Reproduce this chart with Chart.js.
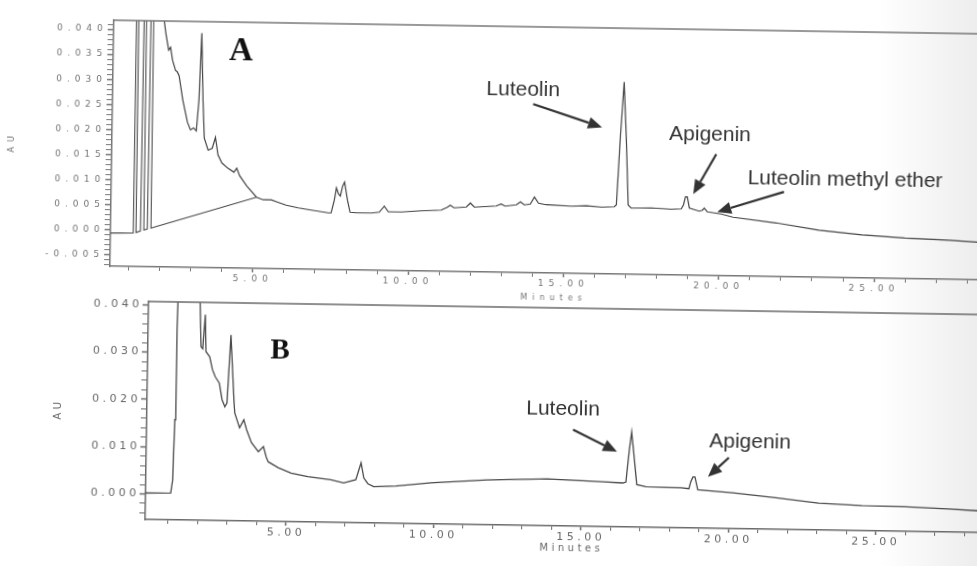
<!DOCTYPE html>
<html>
<head>
<meta charset="utf-8">
<script src="https://cdn.jsdelivr.net/npm/chart.js@4.4.1/dist/chart.umd.min.js"></script>
<style>
  html, body { margin: 0; padding: 0; overflow: hidden; }
  body { width: 977px; height: 566px; position: relative; background: linear-gradient(to right, #fff 90%, #ededed 100%); }
  canvas { position: absolute; left: 0; }
  /* the scan is turned slightly clockwise */
  #chartA { top: 0; transform-origin: 545px 143px; transform: rotate(0.9deg); }
  #chartB { top: 290px; transform-origin: 562px 120px; transform: rotate(0.9deg); }
</style>
</head>
<body>
<canvas id="chartA" width="1000" height="310"></canvas>
<canvas id="chartB" width="1000" height="270"></canvas>
<script>
// ---- panel A: retention time (min) / absorbance (AU)
var timeA = [1.92, 2.02, 2.08, 2.18, 2.24, 2.31, 2.41, 2.47, 2.53, 2.66, 2.82, 2.92, 3.02, 3.11, 3.18, 3.24, 3.31, 3.37, 3.50, 3.63,
  3.73, 3.82, 3.95, 4.14, 4.34, 4.43, 4.53, 4.76, 5.08, 5.30, 5.56, 5.75, 6.04, 6.43, 6.85, 7.40, 7.49, 7.59, 7.65, 7.72,
  7.78, 7.85, 7.91, 8.01, 8.10, 8.30, 8.78, 9.04, 9.20, 9.33, 9.75, 10.39, 11.03, 11.23, 11.32, 11.45, 11.84, 11.97, 12.10, 12.80,
  12.96, 13.09, 13.45, 13.58, 13.71, 13.90, 14.03, 14.16, 14.41, 15.22, 15.70, 16.19, 16.60, 16.67, 16.76, 16.86, 16.96, 17.05, 17.15, 17.79,
  18.44, 18.76, 18.83, 18.89, 18.95, 19.02, 19.34, 19.44, 19.50, 19.60, 20.05, 20.43, 21.82, 23.20, 24.59, 25.97, 27.39, 28.32, 29.0];
var auA = [0.05, 0.0420, 0.0394, 0.0360, 0.0366, 0.0340, 0.0320, 0.0317, 0.0309, 0.0261, 0.0217, 0.0202, 0.0206, 0.0200, 0.0262, 0.0395, 0.0262, 0.0186, 0.0162, 0.0166,
  0.0188, 0.0153, 0.0137, 0.0127, 0.0119, 0.0127, 0.0112, 0.0092, 0.0070, 0.0065, 0.0065, 0.0061, 0.0055, 0.0050, 0.0046, 0.0041, 0.0041, 0.0067, 0.0091, 0.0079,
  0.0075, 0.0095, 0.0103, 0.0067, 0.0043, 0.0042, 0.0042, 0.0044, 0.0056, 0.0045, 0.0045, 0.0048, 0.0050, 0.0056, 0.0060, 0.0055, 0.0057, 0.0065, 0.0057, 0.0060,
  0.0064, 0.0060, 0.0063, 0.0069, 0.0063, 0.0065, 0.0079, 0.0067, 0.0064, 0.0062, 0.0063, 0.0061, 0.0062, 0.0066, 0.0195, 0.0311, 0.0195, 0.0066, 0.0060, 0.0061,
  0.0059, 0.0060, 0.0068, 0.0084, 0.0084, 0.0062, 0.0056, 0.0058, 0.0062, 0.0055, 0.0051, 0.0045, 0.0035, 0.0022, 0.0014, 0.0009, 0.0006, 0.0003, 0.0002];
// solvent front of A: off-scale spikes and the straight baseline drawn under them
var frontTimeA = [0.40, 1.12, 1.13, 1.20, 1.22, 1.36, 1.38, 1.45, 1.47, 1.58, 1.60, 1.68, 1.70, 5.08];
var frontAuA = [-0.0006, -0.0005, 0.05, 0.05, -0.0004, -0.0001, 0.05, 0.05, 0.0001, 0.0003, 0.05, 0.05, 0.0005, 0.0070];

// ---- panel B
var timeB = [0.22, 1.07, 1.13, 1.17, 1.20, 1.24, 1.91, 1.98, 2.02, 2.08, 2.15, 2.19, 2.32, 2.42, 2.52, 2.66, 2.76, 2.86, 2.93, 3.03,
  3.17, 3.20, 3.37, 3.51, 3.61, 3.78, 4.02, 4.19, 4.29, 4.36, 4.70, 5.14, 5.71, 6.49, 6.93, 7.34, 7.51, 7.61, 7.75, 7.95,
  8.70, 9.89, 11.78, 13.82, 15.72, 16.40, 16.50, 16.60, 16.67, 16.74, 16.87, 17.18, 18.37, 18.64, 18.70, 18.77, 18.84, 18.94, 20.13, 21.59,
  23.05, 24.51, 26.00, 27.46, 28.44, 29.15];
var auB = [0.0002, 0.0003, 0.0031, 0.0158, 0.0348, 0.05, 0.05, 0.0385, 0.0313, 0.0309, 0.0381, 0.0303, 0.0292, 0.0265, 0.0250, 0.0237, 0.0202, 0.0187, 0.0195, 0.0339,
  0.0196, 0.0174, 0.0143, 0.0160, 0.0139, 0.0112, 0.0093, 0.0104, 0.0082, 0.0072, 0.0060, 0.0049, 0.0042, 0.0036, 0.0030, 0.0037, 0.0073, 0.0041, 0.0029, 0.0023,
  0.0025, 0.0033, 0.0041, 0.0045, 0.0041, 0.0039, 0.0041, 0.0109, 0.0147, 0.0109, 0.0036, 0.0032, 0.0031, 0.0029, 0.0044, 0.0054, 0.0054, 0.0027, 0.0022, 0.0013,
  0.0003, -0.0001, -0.0002, -0.0005, -0.0008, -0.0009];

// ---- axes
var xTicks = [5, 10, 15, 20, 25];
var yTicksA = [-0.005, 0, 0.005, 0.010, 0.015, 0.020, 0.025, 0.030, 0.035, 0.040];
var yTicksB = [0, 0.010, 0.020, 0.030, 0.040];

// ---- peak labels and arrows (minutes, AU)
var namesA = ['Luteolin', 'Apigenin', 'Luteolin methyl ether'];
var nameTimeA = [13.61, 19.65, 24.02];
var nameAuA = [0.0292, 0.0208, 0.0123];
var arrowFromA = [[13.94, 0.0264], [19.86, 0.0170], [22.06, 0.0097]];
var arrowToA = [[16.17, 0.0220], [19.14, 0.0090], [19.92, 0.0055]];

var namesB = ['Luteolin', 'Apigenin'];
var nameTimeB = [14.33, 20.69];
var nameAuB = [0.0192, 0.0130];
var arrowFromB = [[14.68, 0.0150], [19.98, 0.0096]];
var arrowToB = [[16.18, 0.0105], [19.28, 0.0055]];

function pts(xs, ys) {
  return xs.map(function (x, i) { return { x: x, y: ys[i] }; });
}

function isMajor(list, v) {
  return list.some(function (m) { return Math.abs(m - v) < 1e-9; });
}

function everyStep(step, lo, hi) {
  var out = [];
  for (var n = Math.ceil(lo / step - 1e-9); n <= Math.floor(hi / step + 1e-9); n++) {
    out.push({ value: +(n * step).toFixed(6) });
  }
  return out;
}

// frame line, panel letter, peak names with arrows
var decor = {
  id: 'decor',
  beforeDraw: function (chart, args, o) {
    chart.ctx.letterSpacing = o.spacing;
  },
  afterDraw: function (chart, args, o) {
    var ctx = chart.ctx, sx = chart.scales.x, sy = chart.scales.y, a = chart.chartArea;
    ctx.save();
    ctx.letterSpacing = '0px';
    ctx.strokeStyle = o.frameColor;
    ctx.lineWidth = 1.5;
    ctx.beginPath();
    ctx.moveTo(a.left, a.top);
    ctx.lineTo(a.right, a.top);
    ctx.stroke();

    ctx.textAlign = 'center';
    ctx.textBaseline = 'middle';
    ctx.fillStyle = '#111';
    ctx.font = o.letterFont;
    ctx.fillText(o.letter, sx.getPixelForValue(o.letterAt[0]), sy.getPixelForValue(o.letterAt[1]));

    ctx.fillStyle = '#333';
    ctx.font = '21px "Liberation Sans", Arial, sans-serif';
    o.names.forEach(function (n, i) {
      ctx.fillText(n, sx.getPixelForValue(o.nameT[i]), sy.getPixelForValue(o.nameAu[i]));
    });

    ctx.strokeStyle = '#333';
    ctx.lineWidth = 2.2;
    o.from.forEach(function (f, i) {
      var x1 = sx.getPixelForValue(f[0]), y1 = sy.getPixelForValue(f[1]);
      var x2 = sx.getPixelForValue(o.to[i][0]), y2 = sy.getPixelForValue(o.to[i][1]);
      var ang = Math.atan2(y2 - y1, x2 - x1), len = 14, w = 6;
      var bx = x2 - len * Math.cos(ang), by = y2 - len * Math.sin(ang);
      ctx.beginPath();
      ctx.moveTo(x1, y1);
      ctx.lineTo(bx, by);
      ctx.stroke();
      ctx.beginPath();
      ctx.moveTo(x2, y2);
      ctx.lineTo(bx + w * Math.sin(ang), by - w * Math.cos(ang));
      ctx.lineTo(bx - w * Math.sin(ang), by + w * Math.cos(ang));
      ctx.closePath();
      ctx.fill();
    });
    ctx.restore();
  }
};

function panel(id, s) {
  return new Chart(document.getElementById(id), {
    type: 'line',
    data: { datasets: s.datasets },
    options: {
      responsive: false,
      animation: false,
      devicePixelRatio: 1,
      events: [],
      layout: { padding: { top: s.top, left: 0, right: 0, bottom: 0 } },
      elements: { point: { radius: 0 }, line: { tension: 0 } },
      scales: {
        x: {
          type: 'linear',
          min: s.xMin,
          max: s.xMax,
          afterBuildTicks: function (sc) { sc.ticks = everyStep(1, 1, 28); },
          afterFit: function (sc) { sc.height = s.xHeight; },
          ticks: {
            autoSkip: false,
            maxRotation: 0,
            padding: s.xPad,
            color: s.tickColor,
            font: { family: 'DejaVu Sans', size: s.tickSize },
            callback: function (v) { return isMajor(xTicks, v) ? v.toFixed(2) : ''; }
          },
          grid: {
            drawOnChartArea: false,
            tickLength: 4,
            tickColor: s.axisColor,
            tickWidth: function (c) { return c.tick && isMajor(xTicks, c.tick.value) ? 1.5 : 1; }
          },
          border: { color: s.axisColor, width: 1.5 },
          title: {
            display: true,
            text: 'Minutes',
            color: s.tickColor,
            font: { family: 'DejaVu Sans', size: s.titleSize },
            padding: { top: 0, bottom: s.minutesPad }
          }
        },
        y: {
          min: s.yMin,
          max: s.yMax,
          afterBuildTicks: function (sc) { sc.ticks = everyStep(s.yStep, s.yMin, s.yMax); },
          afterFit: function (sc) { sc.width = s.yWidth; },
          ticks: {
            autoSkip: false,
            padding: 0,
            color: s.tickColor,
            font: { family: 'DejaVu Sans', size: s.tickSize },
            callback: function (v) { return isMajor(s.yTicks, v) ? v.toFixed(3) : ''; }
          },
          grid: {
            drawOnChartArea: false,
            tickLength: 6,
            tickColor: s.axisColor,
            tickWidth: function (c) { return c.tick && isMajor(s.yTicks, c.tick.value) ? 1.5 : 1; }
          },
          border: { color: s.axisColor, width: 1.5 },
          title: {
            display: true,
            text: 'AU',
            color: s.tickColor,
            font: { family: 'DejaVu Sans', size: s.titleSize },
            padding: { top: s.auPad, bottom: 0 }
          }
        }
      },
      plugins: {
        legend: { display: false },
        tooltip: { enabled: false },
        decor: s.decor
      }
    },
    plugins: [decor]
  });
}

panel('chartA', {
  datasets: [
    { data: pts(timeA, auA), borderColor: '#444', borderWidth: 1.2 },
    { data: pts(frontTimeA, frontAuA), borderColor: '#4d4d4d', borderWidth: 1.1 }
  ],
  top: 27, xHeight: 37, yWidth: 112,
  xMin: 0.40, xMax: 28.99, yMin: -0.0072, yMax: 0.0418, yStep: 0.001, yTicks: yTicksA,
  tickSize: 9, titleSize: 8, tickColor: '#747474', axisColor: '#777', xPad: 1, minutesPad: 7, auPad: 7,
  decor: {
    spacing: '5px', frameColor: '#777',
    letter: 'A', letterAt: [4.51, 0.0360], letterFont: 'bold 33px "Liberation Serif", "Times New Roman", serif',
    names: namesA, nameT: nameTimeA, nameAu: nameAuA, from: arrowFromA, to: arrowToA
  }
});

panel('chartB', {
  datasets: [
    { data: pts(timeB, auB), borderColor: '#4a4a4a', borderWidth: 1.3 }
  ],
  top: 18, xHeight: 34, yWidth: 147,
  xMin: 0.22, xMax: 29.15, yMin: -0.0054, yMax: 0.0407, yStep: 0.002, yTicks: yTicksB,
  tickSize: 11, titleSize: 10, tickColor: '#676767', axisColor: '#6a6a6a', xPad: 1, minutesPad: 6, auPad: 52,
  decor: {
    spacing: '3.5px', frameColor: '#6a6a6a',
    letter: 'B', letterAt: [4.70, 0.0307], letterFont: 'bold 29px "Liberation Serif", "Times New Roman", serif',
    names: namesB, nameT: nameTimeB, nameAu: nameAuB, from: arrowFromB, to: arrowToB
  }
});
</script>
</body>
</html>
